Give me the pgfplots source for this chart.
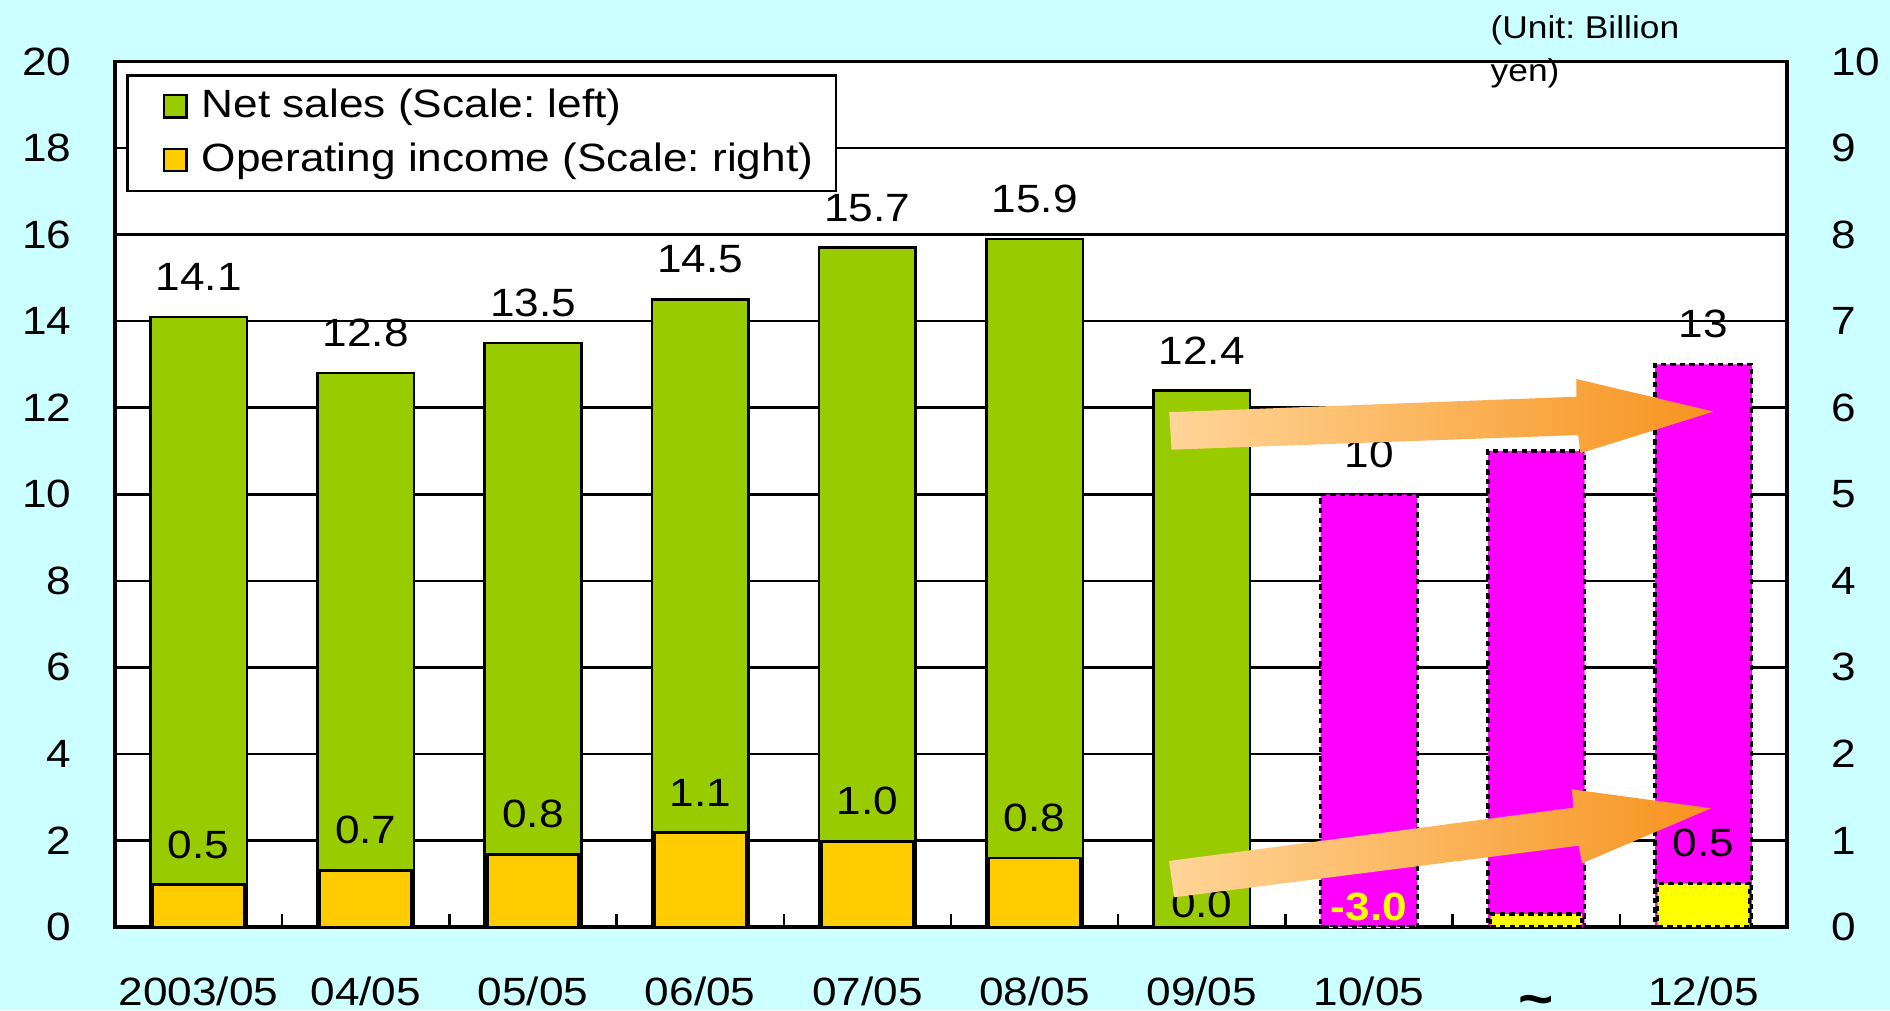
\documentclass[border=0pt]{standalone}
\usepackage{fontspec}
\setmainfont{Liberation Sans}[FakeStretch=1.12]
\usepackage{pgfplots}
\pgfplotsset{compat=1.18}
\usepackage{pgfplotstable}
\frenchspacing

\definecolor{bgcyan}{HTML}{CCFFFF}
\definecolor{netgreen}{HTML}{99CC00}
\definecolor{opgold}{HTML}{FFCC00}
\definecolor{fcmag}{HTML}{FF00FF}
\definecolor{fcyel}{HTML}{FFFF00}
\definecolor{arrowlight}{HTML}{FFD598}
\definecolor{arrowdark}{HTML}{F7931E}
\newcommand{\mainfont}{\fontsize{9.5}{11}\selectfont}

\pgfplotstableread{
x y lab
0 14.1 14.1
1 12.8 12.8
2 13.5 13.5
3 14.5 14.5
4 15.7 15.7
5 15.9 15.9
6 12.4 12.4
}\netsales

\pgfplotstableread{
x y lab
7 10 10
8 11 {}
9 13 13
}\netsalesfc

\pgfplotstableread{
x y lab
0 0.49 0.5
1 0.655 0.7
2 0.84 0.8
3 1.09 1.1
4 0.99 1.0
5 0.80 0.8
6 0.0 {}
}\opinc

\pgfplotstableread{
x y lab
7 -3.0 {}
8 0.15 {}
9 0.5 0.5
}\opincfc

\begin{document}
\begin{tikzpicture}
\fill[bgcyan] (-0.9735,-0.7026) rectangle ++(16,8.5503);
\begin{axis}[
  at={(0,0)}, anchor=south west,
  scale only axis, width=14.1545cm, height=7.327cm,
  xmin=-0.5, xmax=9.5, ymin=0, ymax=20,
  ytick={0,2,...,20},
  xtick={0,...,9},
  xticklabels={2003/05,04/05,05/05,06/05,07/05,08/05,09/05,10/05,{\raisebox{-3pt}{\fontsize{13}{13}\selectfont\bfseries\textasciitilde}},12/05},
  minor xtick={0.5,1.5,...,8.5},
  xtick pos=left, ytick pos=left,
  major tick length=0pt, minor tick length=3.2pt,
  every minor tick/.style={black, line width=0.6pt},
  ymajorgrids, major grid style={black, line width=0.6pt},
  axis line style={black, line width=0.8pt},
  axis background/.style={fill=white},
  tick label style={font=\mainfont},
  /pgf/number format/assume math mode=true,
  xticklabel style={yshift=-8.3pt, text height=7pt, text depth=0pt},
  yticklabel style={xshift=-7pt},
  ybar, bar width=0.578,
  nodes near coords, point meta=explicit symbolic,
  every node near coord/.append style={font=\mainfont, inner sep=0pt, yshift=6pt, text=black},
  tick align=inside, xtick align=inside,
]
\addplot[fill=netgreen, draw=black, line width=0.6pt, bar shift=0pt] table[x=x,y=y,meta=lab]{\netsales};
\addplot[fill=fcmag, draw=black, line width=0.8pt, dash pattern=on 1.3pt off 1pt, bar shift=0pt] table[x=x,y=y,meta=lab]{\netsalesfc};
\end{axis}
\begin{axis}[
  at={(0,0)}, anchor=south west,
  scale only axis, width=14.1545cm, height=7.327cm,
  xmin=-0.5, xmax=9.5, ymin=0, ymax=10,
  ytick={0,...,10},
  axis x line=none, axis y line*=right,
  y axis line style={-, black, line width=0.8pt},
  major tick length=0pt,
  tick label style={font=\mainfont},
  /pgf/number format/assume math mode=true,
  yticklabel style={xshift=7.1pt},
  ybar, bar width=0.547,
  nodes near coords, point meta=explicit symbolic,
  every node near coord/.append style={font=\mainfont, inner sep=0pt, yshift=6pt, text=black},
  legend cell align=left,
  legend style={at={(0,1)}, anchor=north west, xshift=0.0974cm, yshift=-0.11cm,
    draw=black, line width=0.65pt, fill=white, font=\mainfont,
    inner xsep=5.5pt, inner ysep=3.2pt, row sep=4.6pt, column sep=3.4pt,
    nodes={inner sep=0pt}},
]
\addlegendimage{legend image code/.code={\path (0pt,0pt); \draw[fill=netgreen, draw=black, line width=0.6pt] (2.9pt,-2.6pt) rectangle (8.3pt,2.8pt);}}
\addlegendentry{Net sales (Scale: left)}
\addlegendimage{legend image code/.code={\path (0pt,0pt); \draw[fill=opgold, draw=black, line width=0.6pt] (2.9pt,-2.6pt) rectangle (8.3pt,2.8pt);}}
\addlegendentry{Operating income (Scale: right)}
\addplot[forget plot, fill=opgold, draw=black, line width=0.6pt, bar shift=0pt] table[x=x,y=y,meta=lab]{\opinc};
\addplot[forget plot, fill=fcyel, draw=black, line width=0.8pt, dash pattern=on 1.3pt off 1pt, bar shift=0pt] table[x=x,y=y,meta=lab]{\opincfc};
\node[font=\mainfont, inner sep=0pt, anchor=south, yshift=2.1pt] at (axis cs:6,0) {0.0};
\node[font=\mainfont\bfseries, text=fcyel, inner sep=0pt, anchor=south, yshift=1.3pt] at (axis cs:7,0) {-3.0};
\shade[left color=arrowlight, right color=arrowdark] (axis cs:5.805,5.948) -- (axis cs:8.240,6.127) -- (axis cs:8.240,6.332) -- (axis cs:9.060,5.955) -- (axis cs:8.264,5.474) -- (axis cs:8.251,5.684) -- (axis cs:5.819,5.515) -- cycle;
\shade[left color=arrowlight, right color=arrowdark] (axis cs:5.804,0.763) -- (axis cs:8.223,1.379) -- (axis cs:8.213,1.591) -- (axis cs:9.046,1.372) -- (axis cs:8.274,0.736) -- (axis cs:8.253,0.940) -- (axis cs:5.834,0.343) -- cycle;
\end{axis}
\node[font=\fontsize{7.6}{9}\selectfont, inner sep=0pt, anchor=base west] at (11.639,7.524) {(Unit: Billion};
\node[font=\fontsize{7.6}{9}\selectfont, inner sep=0pt, anchor=base west] at (11.639,7.156) {yen)};
\pgfresetboundingbox
\path (-0.9735,-0.7026) rectangle ++(16,8.5503);
\end{tikzpicture}
\end{document}
